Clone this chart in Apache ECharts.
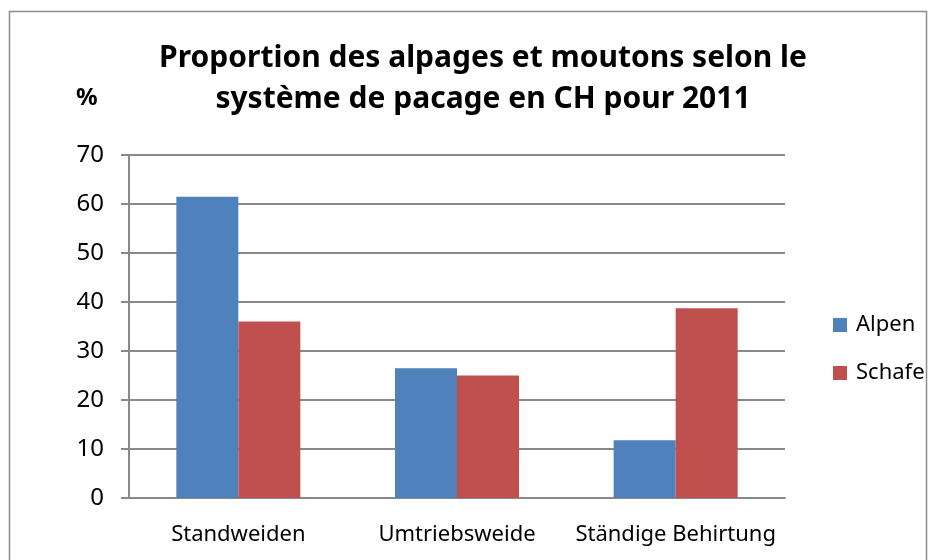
<!DOCTYPE html>
<html>
<head>
<meta charset="utf-8">
<script src="https://cdn.jsdelivr.net/npm/echarts@6/dist/echarts.min.js"></script>
<style>
  html, body { margin: 0; padding: 0; background: #fff; }
  #chart { width: 935px; height: 560px; }
</style>
</head>
<body>
<div id="chart"></div>
<script>
// categories and values
const categories = ['Standweiden', 'Umtriebsweide', 'Ständige Behirtung']
const alpen = [61.5, 26.5, 11.8]
const schafe = [36, 25, 38.7]
const yTicks = [0, 10, 20, 30, 40, 50, 60, 70]

const font = 'Noto Sans'
const gridGray = '#898989'

const ec = echarts.init(document.getElementById('chart'))

ec.setOption({
    animation: false,
    backgroundColor: '#fff',
    color: ['#4F81BD', '#C0504D'],
    title: {
        text: 'Proportion des alpages et moutons selon le\nsystème de pacage en CH pour 2011',
        left: 478,
        top: 33,
        textAlign: 'center',
        textStyle: {
            fontFamily: font,
            fontWeight: 'bold',
            fontSize: 30,
            lineHeight: 41,
            color: '#000'
        }
    },
    graphic: [
        {
            type: 'rect',
            shape: { x: 9.5, y: 11.5, width: 917, height: 560 },
            style: { fill: null, stroke: '#8c8c8c', lineWidth: 1.5 },
            silent: true
        },
        {
            type: 'text',
            left: 76,
            top: 86,
            style: {
                text: '%',
                font: 'bold 24px "Noto Sans"',
                fill: '#000'
            }
        }
    ],
    legend: {
        orient: 'vertical',
        left: 828,
        top: 309,
        itemWidth: 14,
        itemHeight: 14,
        itemGap: 26,
        icon: 'rect',
        textStyle: { fontFamily: font, fontSize: 22, color: '#000', padding: [0, 0, 0, 4] },
        data: ['Alpen', 'Schafe']
    },
    grid: { left: 129, right: 150, top: 155, bottom: 62 },
    xAxis: {
        type: 'category',
        data: categories,
        axisLine: { lineStyle: { color: gridGray, width: 2 } },
        axisTick: { show: false },
        axisLabel: {
            interval: 0,
            fontFamily: font,
            fontSize: 22,
            color: '#000',
            margin: 26
        }
    },
    yAxis: {
        type: 'value',
        min: yTicks[0],
        max: yTicks[yTicks.length - 1],
        interval: 10,
        axisLine: { show: true, lineStyle: { color: gridGray, width: 2 } },
        axisTick: { show: true, length: 8, lineStyle: { color: gridGray, width: 2 } },
        splitLine: { lineStyle: { color: gridGray, width: 2 } },
        axisLabel: {
            fontFamily: font,
            fontSize: 24,
            color: '#000',
            margin: 25
        }
    },
    series: [
        {
            name: 'Alpen',
            type: 'bar',
            data: alpen,
            barWidth: 62,
            barGap: '0%'
        },
        {
            name: 'Schafe',
            type: 'bar',
            data: schafe,
            barWidth: 62,
            barGap: '0%'
        }
    ]
})
</script>
</body>
</html>
